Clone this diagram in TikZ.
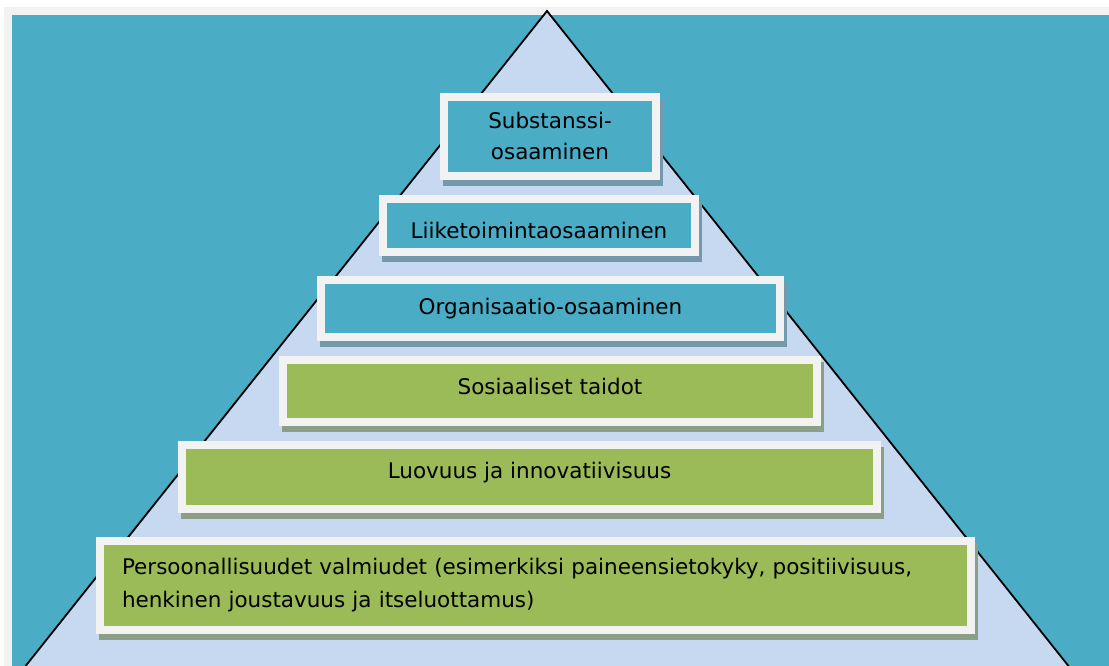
\documentclass[tikz,border=0pt]{standalone}
\usepackage{fontspec}
\setmainfont{DejaVu Sans}
\usetikzlibrary{shadows}
\usepackage{xcolor}

\definecolor{paper}{HTML}{F2F2F2}
\definecolor{teal}{HTML}{4BACC6}
\definecolor{pyramid}{HTML}{C6D9F1}
\definecolor{leaf}{HTML}{9BBB59}
\definecolor{tealshade}{HTML}{7498AC}
\definecolor{leafshade}{HTML}{8A9E88}

\begin{document}
\begin{tikzpicture}[
        x=1pt, y=1pt,
        every node/.style={font=\fontsize{21.5}{31}\selectfont},
        bluetier/.style={rectangle, draw=paper, line width=8pt, fill=teal, inner sep=0pt, align=center,
            drop shadow={shadow xshift=3pt, shadow yshift=-6pt, fill=tealshade, draw=tealshade, line width=8pt, opacity=1}},
        greentier/.style={rectangle, draw=paper, line width=8pt, fill=leaf, inner sep=0pt, align=center,
            drop shadow={shadow xshift=3pt, shadow yshift=-6pt, fill=leafshade, draw=leafshade, line width=8pt, opacity=1}}
    ]
        \useasboundingbox (0,0) rectangle (1109,666);

        % Background panels
        \fill[paper] (4,0) rectangle (1109,659);
        \fill[teal] (12,0) rectangle (1109,651);

        % Pyramid
        \coordinate (apex) at (547,655);
        \coordinate (baseL) at (25.6,0);
        \coordinate (baseR) at (1068.5,0);
        \fill[pyramid] (baseL) -- (apex) -- (baseR) -- cycle;
        \draw[line width=1.8pt, line join=miter] (baseL) -- (apex) -- (baseR);

        % Blue tiers
        \node[bluetier, minimum width=212, minimum height=79.3] (subst) at (550,529.7) {Substanssi-\\osaaminen};
        \node[bluetier, minimum width=312, minimum height=53, text height=26, text depth=0] (liike) at (539,440.5) {Liiketoimintaosaaminen};
        \node[bluetier, minimum width=459, minimum height=57] (organ) at (550.5,357.5) {Organisaatio-osaaminen};

        % Green tiers
        \node[greentier, minimum width=534, minimum height=62.3, text height=16, text depth=8] (sosi) at (550,275.1) {Sosiaaliset taidot};
        \node[greentier, minimum width=695, minimum height=64, text height=16, text depth=13] (luov) at (529.5,189) {Luovuus ja innovatiivisuus};
        \node[greentier, minimum width=871, minimum height=89, align=left, text width=827, inner xsep=22pt, font=\fontsize{21.5}{33}\selectfont] (pers) at (535.5,80.5)
            {Persoonallisuudet valmiudet (esimerkiksi paineensietokyky, positiivisuus,\\henkinen joustavuus ja itseluottamus)};

    \end{tikzpicture}
\end{document}
